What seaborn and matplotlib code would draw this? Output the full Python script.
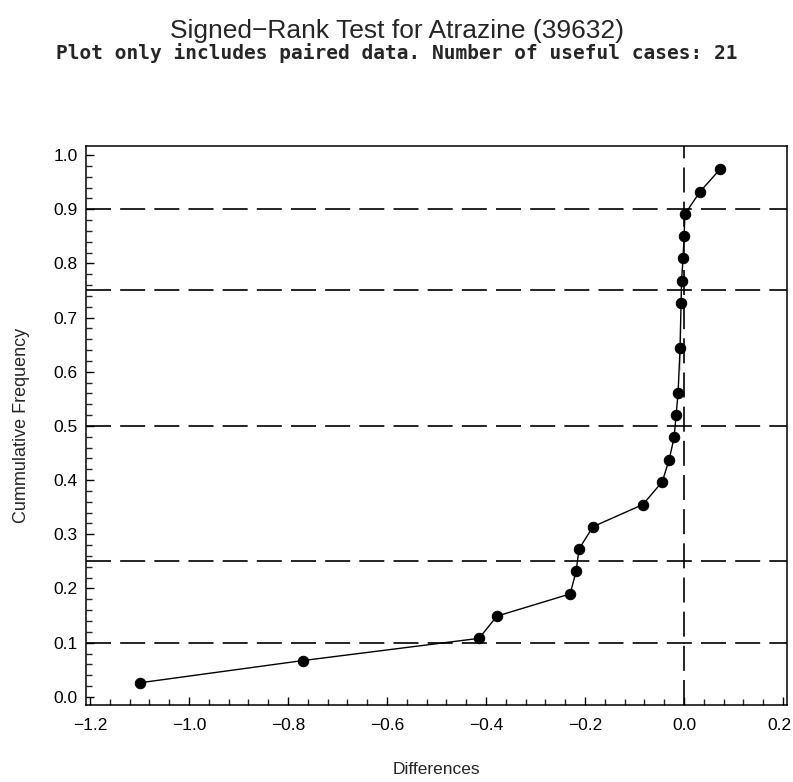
import matplotlib
matplotlib.use("Agg")
import matplotlib.pyplot as plt
import matplotlib.transforms as mtransforms
import seaborn as sns
import numpy as np
import pandas as pd
from matplotlib.ticker import MultipleLocator, FuncFormatter

# ---- data ----
differences = [-1.099, -0.770, -0.414, -0.378, -0.230, -0.218, -0.212, -0.184,
               -0.083, -0.044, -0.030, -0.020, -0.016, -0.012, -0.008,
               -0.008, -0.006, -0.005, -0.002, 0.000, 0.002, 0.032, 0.073]
cum_freq = [0.026, 0.067, 0.108, 0.149, 0.190, 0.232, 0.273, 0.314,
            0.355, 0.397, 0.438, 0.479, 0.520, 0.561, 0.603,
            0.685, 0.726, 0.768, 0.809, 0.850, 0.891, 0.932, 0.974]
ref_levels = [0.1, 0.25, 0.5, 0.75, 0.9]
ref_x = [0.0]

title = "Signed\u2212Rank Test for Atrazine (39632)"
subtitle = "Plot only includes paired data. Number of useful cases: 21"
xlabel = "Differences"
ylabel = "Cummulative Frequency"

df = pd.DataFrame({"Differences": differences, "CumFreq": cum_freq})

sns.set_style("ticks")
plt.rcParams["font.family"] = ["Liberation Sans", "DejaVu Sans"]

fig = plt.figure(figsize=(7.93, 7.82), dpi=100)
ax = fig.add_axes([86 / 793, 1 - 705 / 782, (787 - 86) / 793, (705 - 146) / 782])

dash = (0, (15, 5.5))
for lvl in ref_levels:
    ax.axhline(lvl, color="black", lw=1.2, linestyle=dash, zorder=1)
for xv in ref_x:
    ax.axvline(xv, color="black", lw=1.2, linestyle=dash, zorder=1)

sns.lineplot(data=df, x="Differences", y="CumFreq", sort=False, ax=ax,
             color="black", linewidth=1.0, marker="o", markersize=7.5,
             markeredgecolor="black", markerfacecolor="black", zorder=3)

ax.set_xlim(-1.208, 0.208)
ax.set_ylim(-0.015, 1.0166)
ax.xaxis.set_major_locator(MultipleLocator(0.2))
ax.xaxis.set_minor_locator(MultipleLocator(0.04))
ax.yaxis.set_major_locator(MultipleLocator(0.1))
ax.yaxis.set_minor_locator(MultipleLocator(0.02))

def fmt(v, pos):
    s = "%.1f" % v
    if s.startswith("-"):
        s = s.replace("-", "\u2212")
    if s == "\u22120.0":
        s = "0.0"
    return s

ax.xaxis.set_major_formatter(FuncFormatter(fmt))
ax.yaxis.set_major_formatter(FuncFormatter(fmt))

ax.tick_params(axis="both", which="major", direction="in", length=6, width=1.0,
               labelsize=12.5, colors="black")
ax.tick_params(axis="both", which="minor", direction="in", length=4.5, width=1.0)
ax.tick_params(axis="x", which="major", pad=9)
ax.tick_params(axis="y", which="major", pad=6)
for side in ["top", "right", "bottom", "left"]:
    ax.spines[side].set_visible(True)
    ax.spines[side].set_color("black")
    ax.spines[side].set_linewidth(1.1)

ax.set_xlabel("")
ax.set_ylabel("")
fig.text(436 / 793, 1 - 770 / 782, xlabel, ha="center", va="center", fontsize=12.5)
fig.text(22 / 793, 1 - 425 / 782, ylabel, ha="center", va="center", fontsize=13,
         rotation=90)

fig.text(0.5, 1 - 31 / 782, title, ha="center", va="center", fontsize=19)
fig.text(0.5, 1 - 53 / 782, subtitle, ha="center", va="center", fontsize=14,
         family="DejaVu Sans Mono", weight="bold")

# keep the rightmost visible tick label inside the canvas
fig.canvas.draw()
for tick in ax.xaxis.get_major_ticks():
    if tick.label1.get_text() == "0.2":
        tick.label1.set_horizontalalignment("right")
        tick.label1.set_transform(tick.label1.get_transform() +
                                  mtransforms.ScaledTranslation(8 / 100, 0, fig.dpi_scale_trans))

fig.savefig("out.png", dpi=100, facecolor="white")
